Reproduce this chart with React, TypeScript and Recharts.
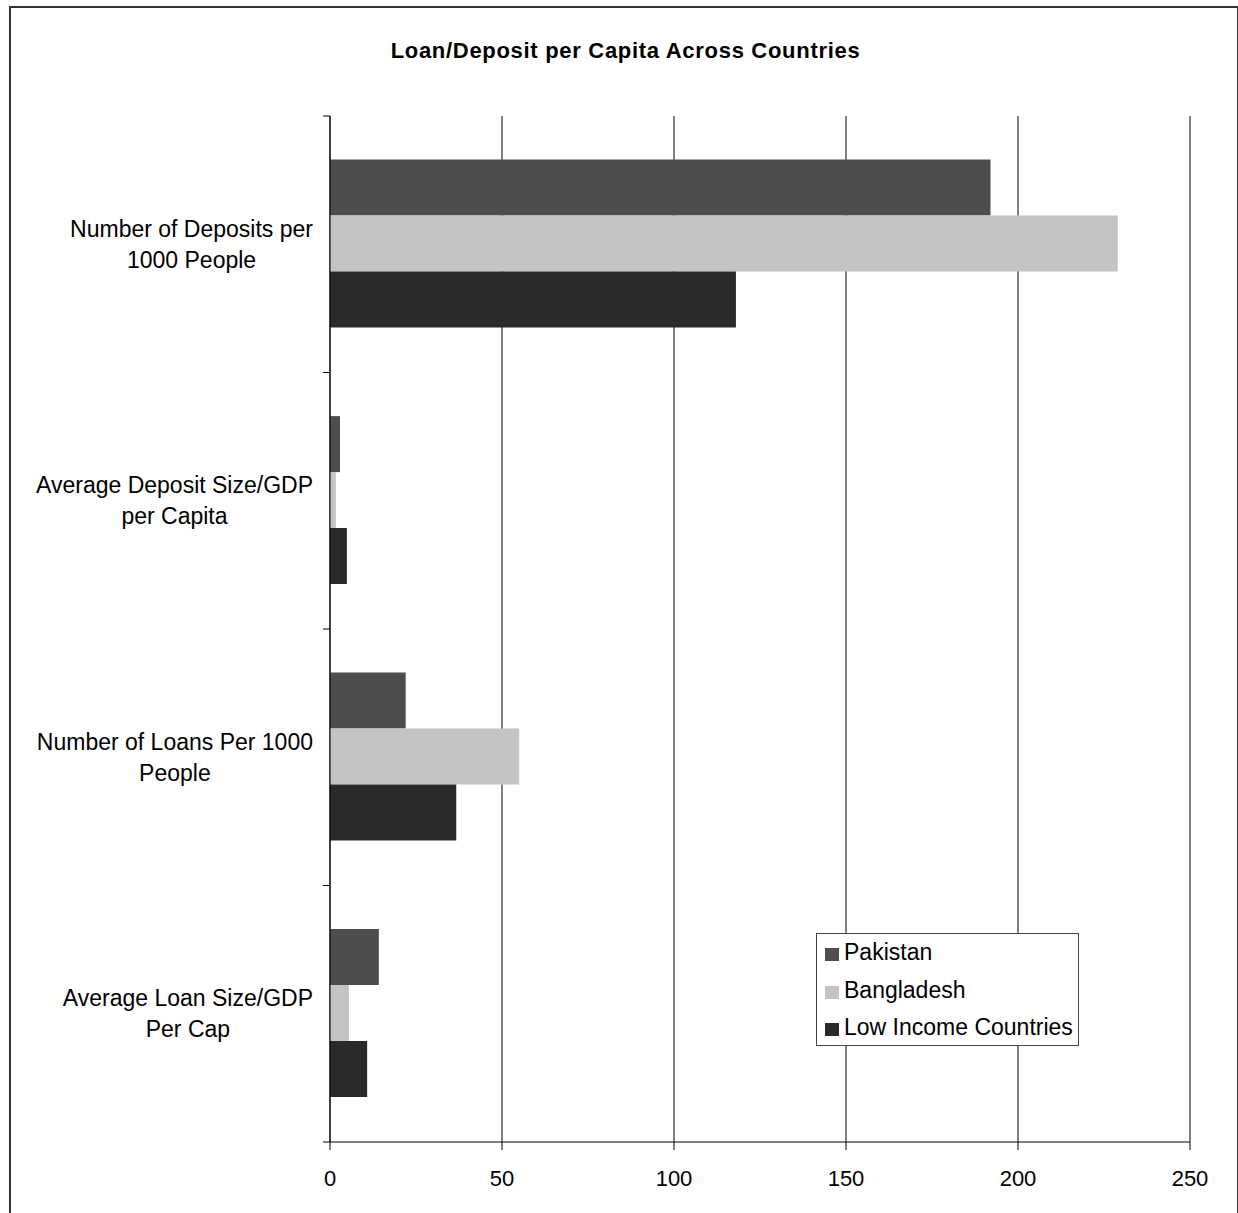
import React from "react";
import {
  BarChart,
  Bar,
  XAxis,
  YAxis,
  CartesianGrid,
  Legend,
} from "recharts";

const categoryLines: string[][] = [
  ["Number of Deposits per", "1000 People"],
  ["Average Deposit Size/GDP", "per Capita"],
  ["Number of Loans Per 1000", "People"],
  ["Average Loan Size/GDP", "Per Cap"],
];
const categories = categoryLines.map((l) => l.join(" "));

const seriesNames = ["Pakistan", "Bangladesh", "Low Income Countries"];
const pakistan = [192, 2.9, 22, 14.2];
const bangladesh = [229, 1.7, 55, 5.5];
const lowIncome = [118, 4.9, 36.7, 10.8];

const xTicks = [0, 50, 100, 150, 200, 250];

const data = categories.map((name, i) => ({
  name,
  pakistan: pakistan[i],
  bangladesh: bangladesh[i],
  lowIncome: lowIncome[i],
}));

const FONT = '"Liberation Sans", Arial, sans-serif';

let measureCtx: CanvasRenderingContext2D | null = null;
function textWidth(s: string, size: number) {
  if (!measureCtx) measureCtx = document.createElement("canvas").getContext("2d");
  if (!measureCtx) return s.length * size * 0.5;
  measureCtx.font = `${size}px ${FONT}`;
  return measureCtx.measureText(s).width;
}

function CategoryTick(props: any) {
  const { x, y, payload, index } = props;
  const half = payload && typeof payload.offset === "number" && payload.offset > 0 ? payload.offset : 128.25;
  const lines = categoryLines[index] || [String(payload.value)];
  const fs = 23;
  const maxW = Math.max(...lines.map((l) => textWidth(l, fs)));
  const cx = x - 17 - maxW / 2;
  const lh = 31;
  const startY = y - ((lines.length - 1) * lh) / 2;
  return (
    <g>
      <line x1={x - 7} x2={x} y1={y - half} y2={y - half} stroke="#000" />
      {index === categories.length - 1 && (
        <line x1={x - 7} x2={x} y1={y + half} y2={y + half} stroke="#000" />
      )}
      {lines.map((l, i) => (
        <text
          key={i}
          x={cx}
          y={startY + i * lh}
          dy="0.35em"
          textAnchor="middle"
          fontSize={fs}
          fontFamily={FONT}
          fill="#000"
        >
          {l}
        </text>
      ))}
    </g>
  );
}

function LegendBox(props: any) {
  const items = [...(props.payload || [])].sort(
    (a: any, b: any) => seriesNames.indexOf(a.value) - seriesNames.indexOf(b.value)
  );
  return (
    <div
      style={{
        border: "1px solid #444",
        background: "#fff",
        width: 261,
        height: 111,
        fontFamily: FONT,
        fontSize: 23,
        color: "#000",
      }}
    >
      {items.map((p: any) => (
        <div
          key={p.value}
          style={{ display: "flex", alignItems: "center", height: 37.5, paddingLeft: 8 }}
        >
          <span
            style={{
              display: "inline-block",
              width: 14,
              height: 13,
              background: p.color,
              marginRight: 5,
              marginTop: 4,
            }}
          />
          <span>{p.value}</span>
        </div>
      ))}
    </div>
  );
}

export default function App() {
  return (
    <div
      style={{
        position: "absolute",
        left: 0,
        top: 0,
        width: 1238,
        height: 1213,
        overflow: "hidden",
        background: "#fff",
      }}
    >
      <div
        style={{
          position: "absolute",
          left: 9,
          top: 6,
          width: 1226,
          height: 1220,
          border: "2px solid #333",
        }}
      />
      <div
        style={{
          position: "absolute",
          left: 0,
          width: 1251,
          top: 38,
          textAlign: "center",
          fontFamily: FONT,
          fontWeight: "bold",
          fontSize: 22,
          letterSpacing: 0.7,
          color: "#000",
        }}
      >
        Loan/Deposit per Capita Across Countries
      </div>
      <div style={{ position: "absolute", left: 0, top: 0 }}>
        <BarChart
          width={1238}
          height={1213}
          data={data}
          layout="vertical"
          margin={{ top: 116, right: 48, bottom: 31, left: 0 }}
          barCategoryGap="17%"
          barGap={0}
          style={{ fontFamily: FONT }}
        >
          <CartesianGrid horizontal={false} stroke="#000" strokeWidth={1} />
          <XAxis
            type="number"
            domain={[0, 250]}
            ticks={xTicks}
            interval={0}
            height={40}
            axisLine={{ stroke: "#000" }}
            tickLine={{ stroke: "#000" }}
            tickSize={8}
            tickMargin={20}
            tick={{ fill: "#000", fontSize: 22, fontFamily: FONT }}
          />
          <YAxis
            type="category"
            dataKey="name"
            width={330}
            interval={0}
            axisLine={{ stroke: "#000" }}
            tickLine={false}
            tickSize={0}
            tickMargin={0}
            tick={<CategoryTick />}
          />
          <Legend
            layout="horizontal"
            verticalAlign="middle"
            align="center"
            wrapperStyle={{ position: "absolute", left: 816, top: 933, width: 263, height: 113 }}
            content={<LegendBox />}
          />
          <Bar dataKey="pakistan" name={seriesNames[0]} fill="#4d4d4d" isAnimationActive={false} />
          <Bar dataKey="bangladesh" name={seriesNames[1]} fill="#c4c4c4" isAnimationActive={false} />
          <Bar dataKey="lowIncome" name={seriesNames[2]} fill="#2a2a2a" isAnimationActive={false} />
        </BarChart>
      </div>
    </div>
  );
}
